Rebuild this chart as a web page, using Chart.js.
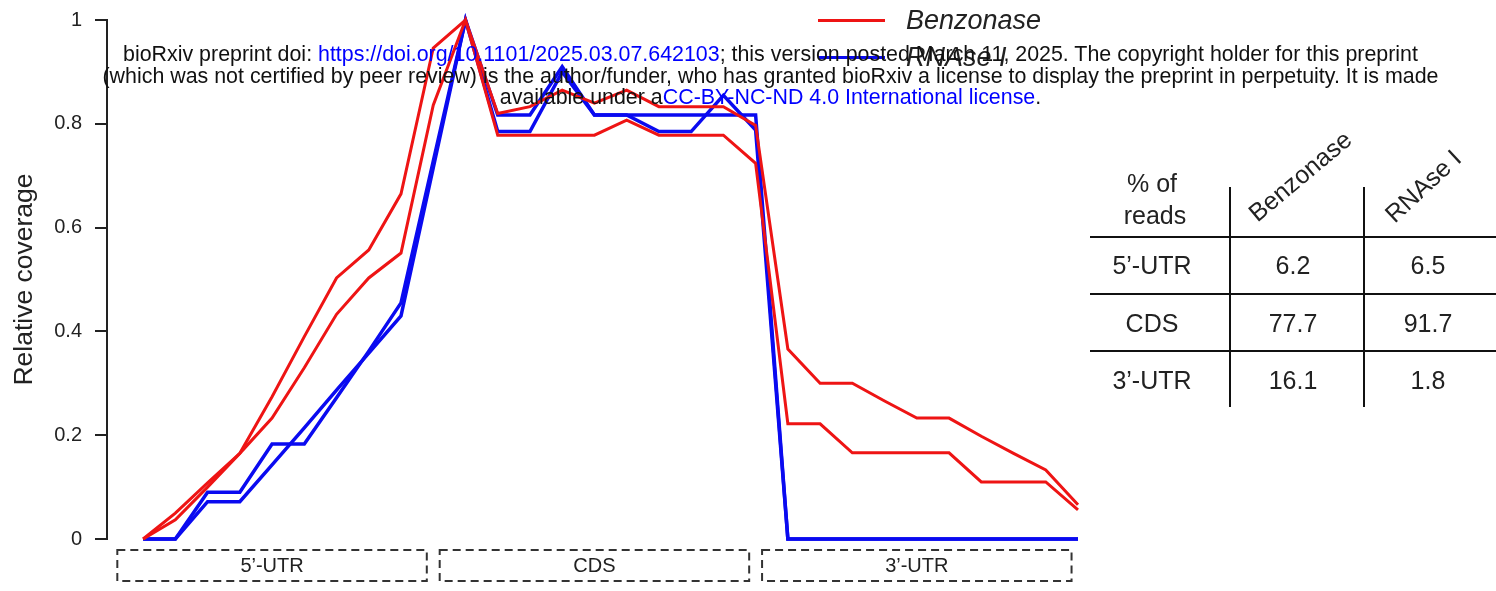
<!DOCTYPE html>
<html lang="en">
<head>
<meta charset="UTF-8">
<title>Relative coverage</title>
<script src="https://cdn.jsdelivr.net/npm/chart.js"></script>
<style>
  body { margin: 0; background: #fff; overflow: hidden; font-family: "Liberation Sans", Arial, sans-serif; }
  #wrap { position: relative; width: 1496px; height: 591px; }
  #chartBox { position: absolute; left: 0; top: 0; width: 1496px; height: 591px; }
  .abs { position: absolute; white-space: nowrap; color: #222; }
  .ctr { transform: translate(-50%, -50%); }
  .line { position: absolute; background: #111; }
  #legend .txt { font-style: italic; font-size: 27px; transform: translateY(-50%); }
  #watermark { position: absolute; left: 0; top: 44px; width: 1541px; text-align: center;
               font-size: 21.4px; line-height: 21.5px; color: #111; white-space: nowrap; }
  #watermark a { color: #0000ff; text-decoration: none; }
  .cell { font-size: 25px; }
</style>
</head>
<body>
<div id="wrap">
  <div id="chartBox"><canvas id="coverage"></canvas></div>
  <div id="legend"></div>
  <div id="table"></div>
  <div id="watermark">
    bioRxiv preprint doi: <a>https://doi.org/10.1101/2025.03.07.642103</a>; this version posted March 11, 2025. The copyright holder for this preprint<br>
    (which was not certified by peer review) is the author/funder, who has granted bioRxiv a license to display the preprint in perpetuity. It is made<br>
    available under a<a>CC-BY-NC-ND 4.0 International license</a>.
  </div>
</div>
<script>
// metagene bins (5'-UTR 0-9, CDS 10-19, 3'-UTR 20-29)
var bins = [0, 1, 2, 3, 4, 5, 6, 7, 8, 9, 10, 11, 12, 13, 14, 15, 16, 17, 18, 19, 20, 21, 22, 23, 24, 25, 26, 27, 28, 29];

// relative coverage, two replicates each
var benzonaseRep1 = [0, 0.05, 0.108, 0.165, 0.274, 0.39, 0.503, 0.557, 0.665, 0.946,
                     1.0, 0.82, 0.833, 0.865, 0.84, 0.865, 0.833, 0.833, 0.833, 0.797,
                     0.366, 0.30, 0.30, 0.266, 0.233, 0.233, 0.198, 0.165, 0.133, 0.066];
var benzonaseRep2 = [0, 0.037, 0.1, 0.165, 0.233, 0.33, 0.433, 0.503, 0.551, 0.836,
                     1.0, 0.778, 0.778, 0.778, 0.778, 0.807, 0.778, 0.778, 0.778, 0.724,
                     0.222, 0.222, 0.166, 0.166, 0.166, 0.166, 0.11, 0.11, 0.11, 0.056];
var rnaseRep1 = [0, 0, 0.09, 0.09, 0.183, 0.183, 0.272, 0.362, 0.455, 0.728,
                 1.0, 0.817, 0.817, 0.91, 0.817, 0.817, 0.817, 0.817, 0.817, 0.817,
                 0, 0, 0, 0, 0, 0, 0, 0, 0, 0];
var rnaseRep2 = [0, 0, 0.072, 0.072, 0.143, 0.214, 0.287, 0.358, 0.43, 0.715,
                 1.0, 0.785, 0.785, 0.9, 0.817, 0.817, 0.785, 0.785, 0.855, 0.788,
                 0, 0, 0, 0, 0, 0, 0, 0, 0, 0];

var yTicks = [0, 0.2, 0.4, 0.6, 0.8, 1];

var regionLabels = ['5’-UTR', 'CDS', '3’-UTR'];
var regionMid = [4, 14, 24];

// % of reads table
var tableRows = ['5’-UTR', 'CDS', '3’-UTR'];
var tableCols = ['Benzonase', 'RNAse I'];
var benzonasePct = ['6.2', '77.7', '16.1'];
var rnasePct = ['6.5', '91.7', '1.8'];

var FONT = '"Liberation Sans", Arial, sans-serif';
var RED = '#ee1414';
var BLUE = '#0a0af0';

// dashed region boxes under the plot
var regionBoxes = {
    id: 'regionBoxes',
    afterDraw: function(chart) {
        var ctx = chart.ctx, x = chart.scales.x;
        ctx.save();
        ctx.setLineDash([8, 5]);
        ctx.strokeStyle = '#333';
        ctx.lineWidth = 2;
        ctx.font = '20px ' + FONT;
        ctx.fillStyle = '#222';
        ctx.textAlign = 'center';
        ctx.textBaseline = 'middle';
        for (var i = 0; i < regionLabels.length; i++) {
            var l = x.getPixelForValue(regionMid[i] - 4.8);
            var r = x.getPixelForValue(regionMid[i] + 4.8);
            ctx.strokeRect(l, 550, r - l, 31);
            ctx.fillText(regionLabels[i], (l + r) / 2, 566);
        }
        ctx.restore();
    }
};

function lineSet(label, data, color, width) {
    return { label: label, data: data, borderColor: color, backgroundColor: color,
             borderWidth: width, pointRadius: 0, tension: 0, fill: false, clip: false };
}

var chart = new Chart(document.getElementById('coverage'), {
    type: 'line',
    data: {
        labels: bins,
        datasets: [
            lineSet('Benzonase', benzonaseRep1, RED, 3),
            lineSet('Benzonase', benzonaseRep2, RED, 3),
            lineSet('RNAse I', rnaseRep1, BLUE, 3.5),
            lineSet('RNAse I', rnaseRep2, BLUE, 3.5)
        ]
    },
    options: {
        responsive: true,
        maintainAspectRatio: false,
        animation: false,
        layout: { padding: { left: 0, right: 418, top: 20, bottom: 52 } },
        plugins: { legend: { display: false }, tooltip: { enabled: false } },
        scales: {
            x: { type: 'linear', min: -1.12, max: 29, display: false },
            y: {
                min: 0, max: 1,
                afterBuildTicks: function(s) { s.ticks = yTicks.map(function(v) { return { value: v }; }); },
                afterFit: function(s) { s.width = 107; s.paddingTop = 0; s.paddingBottom = 0; },
                border: { display: true, color: '#222', width: 2 },
                grid: { drawOnChartArea: false, drawTicks: true, tickLength: 12, color: '#222', lineWidth: 2 },
                ticks: { color: '#222', padding: 13, font: { size: 20, family: FONT },
                         callback: function(v) { return String(v); } },
                title: { display: true, text: 'Relative coverage', color: '#222',
                         font: { size: 26.5, family: FONT }, padding: { top: 9, bottom: 0 } }
            }
        }
    },
    plugins: [regionBoxes]
});

// legend: one entry per enzyme
var legend = document.getElementById('legend');
var seen = {};
var legendY = [20, 57];
var k = 0;
chart.data.datasets.forEach(function(ds) {
    if (seen[ds.label]) return;
    seen[ds.label] = true;
    var y = legendY[k++];
    var ln = document.createElement('div');
    ln.className = 'line';
    ln.style.cssText = 'left:818px;width:67px;top:' + (y - 1.5) + 'px;height:3px;background:' + ds.borderColor;
    legend.appendChild(ln);
    var t = document.createElement('div');
    t.className = 'abs txt';
    t.style.cssText = 'left:906px;top:' + y + 'px';
    t.textContent = ds.label;
    legend.appendChild(t);
});

// table
var table = document.getElementById('table');
function addLine(css) {
    var d = document.createElement('div');
    d.className = 'line';
    d.style.cssText = css;
    table.appendChild(d);
}
function addText(txt, cx, cy, extra) {
    var d = document.createElement('div');
    d.className = 'abs ctr cell';
    d.style.left = cx + 'px';
    d.style.top = cy + 'px';
    if (extra) d.style.transform = 'translate(-50%, -50%) ' + extra;
    d.textContent = txt;
    table.appendChild(d);
    return d;
}
[236, 293, 350].forEach(function(y) { addLine('left:1090px;width:406px;top:' + y + 'px;height:2px'); });
[1229, 1363].forEach(function(x) { addLine('left:' + x + 'px;width:2px;top:187px;height:220px'); });
addText('% of', 1152, 183);
addText('reads', 1155, 215);
addText(tableCols[0], 1300, 176, 'rotate(-40deg)');
addText(tableCols[1], 1423, 186, 'rotate(-43deg)');
var rowY = [265, 323, 380];
var colX = [1152, 1293, 1428];
for (var i = 0; i < tableRows.length; i++) {
    addText(tableRows[i], colX[0], rowY[i]);
    addText(benzonasePct[i], colX[1], rowY[i]);
    addText(rnasePct[i], colX[2], rowY[i]);
}
</script>
</body>
</html>
